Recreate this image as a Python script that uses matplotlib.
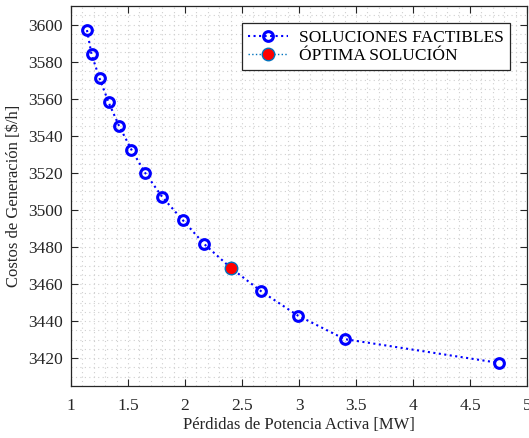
import numpy as np
import matplotlib.pyplot as plt
from matplotlib.ticker import MultipleLocator

plt.rcParams['font.family'] = ['Liberation Serif', 'DejaVu Serif']

# soluciones factibles (frente de Pareto)
perdidas = [1.14, 1.18, 1.25, 1.33, 1.42, 1.53, 1.65, 1.80, 1.98, 2.17,
            2.40, 2.67, 2.99, 3.40, 4.75]
costos = [3597, 3584, 3571, 3558, 3545.5, 3532.5, 3520, 3507, 3494.5, 3481.5,
          3468.8, 3456, 3443, 3430.3, 3417.5]

# óptima solución
opt_x = [2.40]
opt_y = [3468.8]

fig = plt.figure(figsize=(5.29, 4.38), dpi=100)
ax = fig.add_axes([71/529, 52/438, 456/529, 380/438])

ax.plot(perdidas, costos, ':', color='blue', lw=1.5, marker='o', ms=7,
        mfc='none', mec='blue', mew=2.2, label='SOLUCIONES FACTIBLES')
ax.plot(opt_x, opt_y, ':', color='#0072BD', lw=1.0, marker='o', ms=9,
        mfc='red', mec='#0072BD', mew=1.0, label='ÓPTIMA SOLUCIÓN')

ax.set_xlim(1, 5)
ax.set_ylim(3405, 3610)
ax.set_xticks(np.arange(1, 5.01, 0.5))
ax.set_xticklabels(['1', '1.5', '2', '2.5', '3', '3.5', '4', '4.5', '5'])
ax.yaxis.set_major_locator(MultipleLocator(20))
ax.xaxis.set_minor_locator(MultipleLocator(0.1))
ax.yaxis.set_minor_locator(MultipleLocator(5))

ax.grid(which='both', linestyle=(0, (1, 3)), color='#cfcfcf', lw=0.8)
ax.set_axisbelow(True)
ax.tick_params(which='major', direction='in', top=True, right=True,
               length=5, width=0.8, labelsize=12.5, colors='#262626')
ax.tick_params(axis='x', which='major', pad=8.5)
ax.tick_params(axis='y', which='major', pad=6)
ax.tick_params(which='minor', length=0, top=True, right=True)
for s in ax.spines.values():
    s.set_color('#262626')
    s.set_linewidth(0.9)

ax.set_xlabel('Pérdidas de Potencia Activa [MW]', fontsize=12, color='#262626',
              labelpad=2)
ax.set_ylabel('Costos de Generación [$/h]', fontsize=12, color='#262626',
              labelpad=4)

leg = ax.legend(loc='upper right', fontsize=12.5, fancybox=False,
                framealpha=1, edgecolor='#262626', handlelength=2.3,
                borderpad=0.35, labelspacing=0.15, handletextpad=0.6,
                borderaxespad=1.0)
leg.get_frame().set_linewidth(0.9)

fig.savefig('out.png', dpi=100)
